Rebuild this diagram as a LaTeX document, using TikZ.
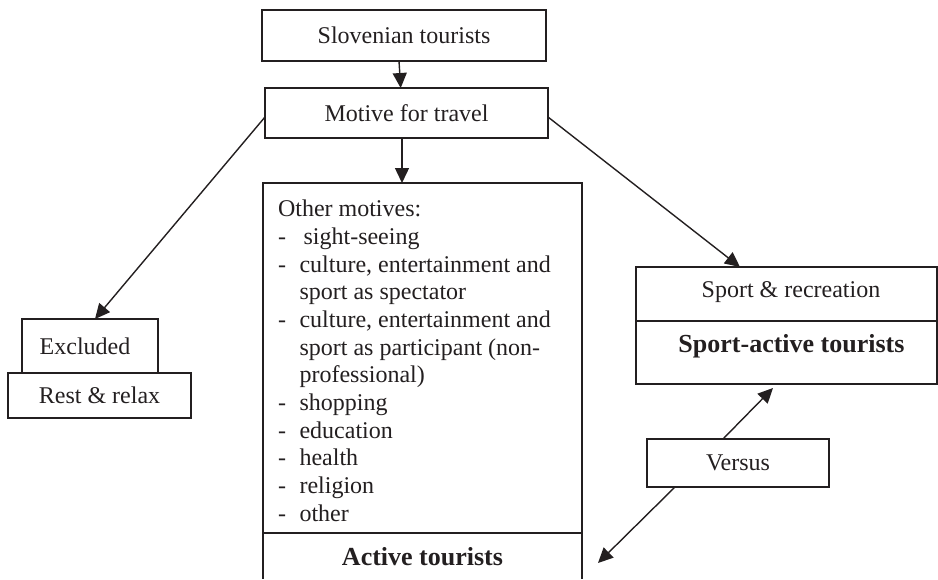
\documentclass[tikz,border=0pt]{standalone}
\usepackage{fontspec}
\setmainfont{Liberation Serif}
\usetikzlibrary{arrows.meta}
\definecolor{ink}{RGB}{35,31,32}
\begin{document}
\begin{tikzpicture}[x=0.5pt,y=-0.5pt,
  every node/.style={inner sep=0pt,outer sep=0pt,text=ink,font=\fontsize{12}{13.85}\selectfont},
  boxnode/.style={draw=ink,line width=0.85pt,rectangle},
  conn/.style={draw=ink,line width=0.7pt,-{Triangle[length=7.5pt,width=7pt]}},
  boldtext/.style={font=\fontsize{13}{15}\selectfont\bfseries}
]
\useasboundingbox (0,0) rectangle (938,579);

% top boxes
\node[boxnode,minimum width=142pt,minimum height=25.5pt] (slov) at (404,35.5) {Slovenian tourists};
\node[boxnode,minimum width=141.5pt,minimum height=25pt] (motive) at (406.5,113) {Motive for travel};

% other motives box
\node[boxnode,minimum width=159.5pt,minimum height=175pt] (other) at (422.5,358) {};
\node[anchor=north west,align=left] (othertext) at (278,200)
{Other motives:\\
\makebox[12.8pt][l]{-}sight-seeing\\
\makebox[10.8pt][l]{-}culture, entertainment and\\
\hspace*{10.8pt}sport as spectator\\
\makebox[10.8pt][l]{-}culture, entertainment and\\
\hspace*{10.8pt}sport as participant (non-\\
\hspace*{10.8pt}professional)\\
\makebox[10.8pt][l]{-}shopping\\
\makebox[10.8pt][l]{-}education\\
\makebox[10.8pt][l]{-}health\\
\makebox[10.8pt][l]{-}religion\\
\makebox[10.8pt][l]{-}other};
\node[boldtext,anchor=base] (active) at (422.5,565) {Active tourists};
\draw[ink,line width=0.85pt] (other.south west) -- (263,579);
\draw[ink,line width=0.85pt] (other.south east) -- (582,579);

% excluded / rest
\node[boxnode,minimum width=68pt,minimum height=27pt] (excl) at (90,346) {};
\node (excltext) at (85,346) {Excluded};
\node[boxnode,minimum width=91.5pt,minimum height=22.5pt] (rest) at (99.5,395.5) {Rest \& relax};

% sport boxes
\node[boxnode,minimum width=150.5pt,minimum height=27pt] (sportrec) at (786.5,294) {};
\node (sportrectext) at (791,292) {Sport \& recreation};
\node[boxnode,minimum width=150.5pt,minimum height=31.5pt] (sportact) at (786.5,352.5) {};
\node[boldtext] (sportacttext) at (791.5,346) {Sport-active tourists};

% versus
\node[boxnode,minimum width=91pt,minimum height=24pt] (versus) at (738,463) {Versus};

\coordinate (acttip) at (598,563);
\coordinate (sporttip) at (773,388);

% connectors
\draw[conn] ([xshift=-2.5pt]slov.south) -- ([xshift=-2.9pt]motive.north);
\draw[conn] ([xshift=-2.25pt]motive.south) -- ([xshift=-2.25pt]motive.south |- other.north);
\draw[conn] ([yshift=-2pt]motive.west) -- ([xshift=2.5pt]excl.north);
\draw[conn] ([yshift=-2pt]motive.east) -- ([xshift=-23.25pt]sportrec.north);
\draw[conn] ([xshift=-7.5pt]versus.north) -- (sporttip);
\draw[conn] ([xshift=-31.5pt]versus.south) -- (acttip);
\end{tikzpicture}
\end{document}
